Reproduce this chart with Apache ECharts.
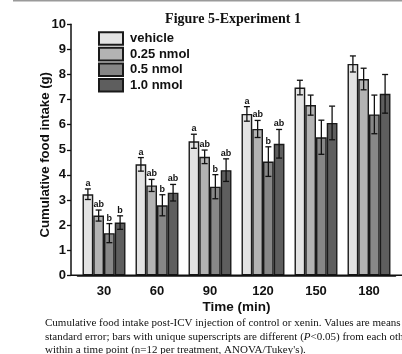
<!DOCTYPE html>
<html>
<head>
<meta charset="utf-8">
<script src="https://cdn.jsdelivr.net/npm/echarts@6/dist/echarts.min.js"></script>
<style>
html,body{margin:0;padding:0;background:#fff;}
#chart{width:402px;height:354px;}
</style>
</head>
<body>
<div id="chart"></div>
<script>
// ---- data ----
const categories = ['30', '60', '90', '120', '150', '180'];
const seriesNames = ['vehicle', '0.25 nmol', '0.5 nmol', '1.0 nmol'];
const vehicle = [3.23, 4.42, 5.34, 6.43, 7.48, 8.42];
const nmol025 = [2.38, 3.58, 4.72, 5.83, 6.78, 7.82];
const nmol05 = [1.68, 2.79, 3.53, 4.53, 5.50, 6.41];
const nmol10 = [2.10, 3.29, 4.19, 5.24, 6.07, 7.23];
const vehicleErr = [0.21, 0.27, 0.28, 0.29, 0.29, 0.32];
const nmol025Err = [0.22, 0.24, 0.27, 0.34, 0.40, 0.43];
const nmol05Err = [0.38, 0.42, 0.48, 0.59, 0.68, 0.77];
const nmol10Err = [0.27, 0.33, 0.45, 0.57, 0.67, 0.77];
const vehicleLetters = ['a', 'a', 'a', 'a', '', ''];
const nmol025Letters = ['ab', 'ab', 'ab', 'ab', '', ''];
const nmol05Letters = ['b', 'b', 'b', 'b', '', ''];
const nmol10Letters = ['b', 'ab', 'ab', 'ab', '', ''];
const yTicks = [0, 1, 2, 3, 4, 5, 6, 7, 8, 9, 10];
const captionLines = [
  'Cumulative food intake post-ICV injection of control or xenin. Values are means \u00b1',
  'standard error; bars with unique superscripts are different ({i|P}<0.05) from each other',
  "within a time point (n=12 per treatment, ANOVA/Tukey's)."
];

// ---- styling ----
const colors = ['#e3e3e3', '#b3b3b3', '#878787', '#5e5e5e'];
const SANS = '"Liberation Sans", Arial, sans-serif';
const SERIF = '"Liberation Serif", "Times New Roman", serif';
const GRID_LEFT = 77.5, GRID_RIGHT = 6.5, GRID_TOP = 24.3, GRID_BOTTOM = 78.7;
const Y_OFFSET = 6.5;
const CAT_GAP = 0.19;

const means = [vehicle, nmol025, nmol05, nmol10];
const errs = [vehicleErr, nmol025Err, nmol05Err, nmol10Err];
const letters = [vehicleLetters, nmol025Letters, nmol05Letters, nmol10Letters];

const errData = [];
for (let s = 0; s < means.length; s++) {
  for (let i = 0; i < categories.length; i++) {
    errData.push([i, means[s][i], errs[s][i], s, letters[s][i]]);
  }
}

const chart = echarts.init(document.getElementById('chart'), null, {renderer: 'canvas'});

const barSeries = seriesNames.map((name, s) => ({
  name: name,
  type: 'bar',
  data: means[s],
  barGap: '0%',
  barCategoryGap: (CAT_GAP * 100) + '%',
  itemStyle: {color: colors[s], borderColor: '#1a1a1a', borderWidth: 1.4},
  emphasis: {disabled: true},
  z: 2
}));

const errSeries = {
  type: 'custom',
  data: errData,
  z: 5,
  silent: true,
  renderItem: function (params, api) {
    const cat = api.value(0), m = api.value(1), e = api.value(2), s = api.value(3);
    const band = api.size([1, 0])[0];
    const bw = band * (1 - CAT_GAP) / 4;
    const center = api.coord([cat, m]);
    const x = center[0] + (s - 1.5) * bw;
    const top = api.coord([cat, m + e])[1];
    const bot = api.coord([cat, m - e])[1];
    const cap = 3;
    const st = {stroke: '#111', lineWidth: 1.3};
    const children = [
      {type: 'line', shape: {x1: x, y1: top, x2: x, y2: bot}, style: st},
      {type: 'line', shape: {x1: x - cap, y1: top, x2: x + cap, y2: top}, style: st},
      {type: 'line', shape: {x1: x - cap, y1: bot, x2: x + cap, y2: bot}, style: st}
    ];
    const lt = errData[params.dataIndex][4];
    if (lt) {
      children.push({
        type: 'text',
        style: {text: lt, x: x, y: top - 5.5, align: 'center', verticalAlign: 'middle',
          font: 'bold 9px ' + SANS, fill: '#111'}
      });
    }
    return {type: 'group', children: children};
  }
};

const option = {
  animation: false,
  backgroundColor: '#fff',
  title: {
    text: 'Figure 5-Experiment 1',
    left: 233, top: 12, textAlign: 'center', padding: 0,
    textStyle: {fontFamily: SERIF, fontWeight: 'bold', fontSize: 14, color: '#111'}
  },
  legend: {
    orient: 'vertical',
    left: 93, top: 25.7,
    itemWidth: 24, itemHeight: 12.6, itemGap: 0,
    icon: 'rect',
    selectedMode: false,
    data: seriesNames,
    textStyle: {fontFamily: SANS, fontWeight: 'bold', fontSize: 13, color: '#111',
      lineHeight: 12.6, padding: [3, 0, 0, 2]}
  },
  grid: {left: GRID_LEFT, right: GRID_RIGHT, top: GRID_TOP, bottom: GRID_BOTTOM, containLabel: false},
  xAxis: {
    type: 'category',
    data: categories,
    name: 'Time (min)',
    nameLocation: 'middle',
    nameGap: 25,
    nameMoveOverlap: false,
    nameTextStyle: {fontFamily: SANS, fontWeight: 'bold', fontSize: 13.5, color: '#111'},
    axisLine: {lineStyle: {color: '#111', width: 1.5}},
    axisTick: {show: false},
    axisLabel: {fontFamily: SANS, fontWeight: 'bold', fontSize: 13, color: '#111', margin: 10}
  },
  yAxis: {
    type: 'value',
    min: yTicks[0], max: yTicks[yTicks.length - 1], interval: 1,
    offset: Y_OFFSET,
    name: 'Cumulative food intake (g)',
    nameLocation: 'middle',
    nameGap: 19,
    nameMoveOverlap: false,
    nameRotate: 90,
    nameTextStyle: {fontFamily: SANS, fontWeight: 'bold', fontSize: 13.2, color: '#111',
      padding: [0, 10, 0, 0]},
    splitLine: {show: false},
    axisLine: {show: true, lineStyle: {color: '#111', width: 1.5}},
    axisTick: {show: true, inside: false, length: 4, lineStyle: {color: '#111', width: 1.3}},
    axisLabel: {fontFamily: SANS, fontWeight: 'bold', fontSize: 13, color: '#111', margin: 5}
  },
  series: barSeries.concat([errSeries])
};

chart.setOption(option);

// decorations: extend x axis line, top rule, caption
const y0 = chart.convertToPixel({yAxisIndex: 0}, 0);
const gfx = [
  {type: 'line', shape: {x1: GRID_LEFT - Y_OFFSET, y1: y0, x2: 402, y2: y0},
    style: {stroke: '#111', lineWidth: 1.5}, z: 10, silent: true},
  {type: 'rect', shape: {x: 13, y: 0, width: 389, height: 1.5},
    style: {fill: '#9a9a9a'}, silent: true}
];
const capY = [324.3, 338.3, 351];
captionLines.forEach((t, k) => {
  gfx.push({
    type: 'text', left: 45, top: capY[k] - 6.5, silent: true,
    style: {text: t, font: '11px ' + SERIF, fill: '#111',
      rich: {i: {fontStyle: 'italic', fontFamily: SERIF, fontSize: 11, fill: '#111'}}}
  });
});
chart.setOption({graphic: gfx});
</script>
</body>
</html>
